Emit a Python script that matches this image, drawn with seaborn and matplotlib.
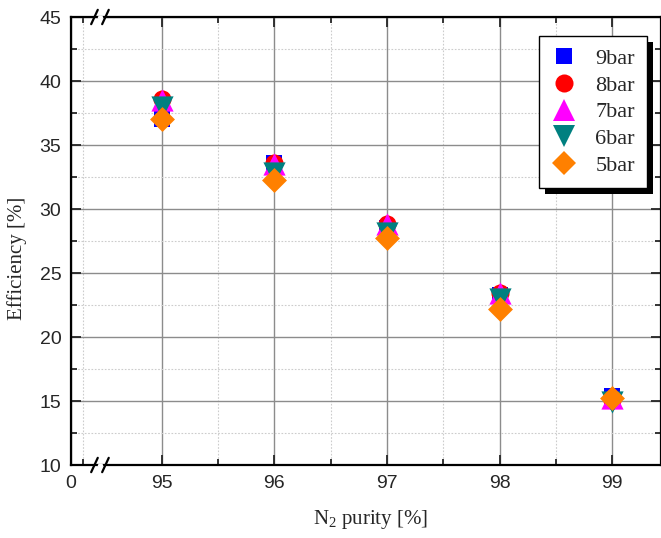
import matplotlib
matplotlib.use("Agg")
import matplotlib.pyplot as plt
import seaborn as sns
import pandas as pd
from matplotlib.patches import Rectangle
from matplotlib.lines import Line2D

# data
purity = [95, 96, 97, 98, 99]
eff_9bar = [37.0, 33.6, 28.5, 23.3, 15.4]
eff_8bar = [38.6, 33.6, 28.8, 23.4, 15.1]
eff_7bar = [38.5, 33.5, 28.8, 23.4, 15.2]
eff_6bar = [38.0, 32.8, 28.1, 23.0, 14.9]
eff_5bar = [37.0, 32.3, 27.7, 22.2, 15.2]
series_names = ["9bar", "8bar", "7bar", "6bar", "5bar"]

sns.set_style("ticks")
plt.rcParams['font.family'] = ['Liberation Sans', 'DejaVu Sans']
plt.rcParams['mathtext.default'] = 'regular'

df = pd.DataFrame({
    "purity": purity * 5,
    "eff": eff_9bar + eff_8bar + eff_7bar + eff_6bar + eff_5bar,
    "series": [s for s in series_names for _ in purity],
})

colors = {"9bar": "#0000ff", "8bar": "#ff0000", "7bar": "#ff00ff",
          "6bar": "#008080", "5bar": "#ff8000"}
markers = {"9bar": "s", "8bar": "o", "7bar": "^", "6bar": "v", "5bar": "D"}
msize = {"9bar": 11.5, "8bar": 13, "7bar": 16, "6bar": 16, "5bar": 12.7}

fig = plt.figure(figsize=(6.61, 5.38), dpi=100)
ax = fig.add_axes([71 / 661, 1 - 465 / 538, 1 - 71 / 661 - 0.5 / 661, (465 - 17) / 538])

# x axis is broken: "0" sits just left of 95
x_zero = 95 - 91 / 112.7
x_right = 99.43

for name in series_names:
    sub = df[df["series"] == name]
    sns.scatterplot(data=sub, x="purity", y="eff", ax=ax, color=colors[name],
                    marker=markers[name], s=msize[name] ** 2, linewidth=0,
                    zorder=3, legend=False)

ax.set_xlim(x_zero, x_right)
ax.set_ylim(10, 45)
ax.set_xticks([x_zero] + purity)
ax.set_xticklabels(["0"] + [str(p) for p in purity])
ax.set_xticks([x_zero + 12 / 112.7, 95.5, 96.5, 97.5, 98.5], minor=True)
ax.set_yticks([10, 15, 20, 25, 30, 35, 40, 45])
ax.set_yticks([12.5, 17.5, 22.5, 27.5, 32.5, 37.5, 42.5], minor=True)

ax.grid(which="major", color="#8c8c8c", linewidth=1.0, linestyle="-")
ax.grid(which="minor", color="#cccccc", linewidth=0.8, linestyle=(0, (1.5, 1.5)))
ax.set_axisbelow(True)

for sp in ax.spines.values():
    sp.set_linewidth(1.6)
    sp.set_color("black")
ax.tick_params(which="both", direction="in", top=True, right=True,
               labelsize=14, width=1.3, pad=7)
ax.tick_params(which="major", length=7)
ax.tick_params(which="minor", length=4)

ax.set_xlabel("N$_2$ purity [%]", family="Liberation Serif", fontsize=15)
ax.set_ylabel("Efficiency [%]", family="Liberation Serif", fontsize=15)
ax.xaxis.set_label_coords((371 - 71) / 589.5, -(508 - 465) / 448)
ax.yaxis.set_label_coords(-(71 - 27) / 589.5, (465 - 258) / 448)

# break marks on bottom and top spines
trans = ax.get_xaxis_transform()
xb = x_zero + 29 / 112.7
dx = 3.3 / 112.7
gap = 5.5 / 112.7
for yb in (0, 1):
    ax.plot([xb - gap / 2 + dx * 0.4, xb + gap / 2 - dx * 0.4], [yb, yb], color="white",
            lw=2.5, transform=trans, clip_on=False, zorder=5)
    for c in (xb - gap, xb + gap):
        ax.plot([c - dx, c + dx], [yb - 0.016, yb + 0.016], color="black", lw=1.6,
                transform=trans, clip_on=False, zorder=6)

handles = [Line2D([], [], linestyle="none", marker=markers[n], color=colors[n],
                  markersize=msize[n], markeredgewidth=0) for n in series_names]
leg = ax.legend(handles, series_names, loc="upper right",
                bbox_to_anchor=((647 - 71) / 589.5, 1 - (36 - 17) / 448),
                borderaxespad=0,
                prop={"family": "Liberation Serif", "size": 16},
                frameon=True, fancybox=False, edgecolor="black", framealpha=1,
                labelspacing=0.28, handletextpad=0.8, borderpad=0.55,
                handlelength=1.2)
leg.get_frame().set_linewidth(1.0)
leg.set_zorder(10)

fig.canvas.draw()
bb = leg.get_window_extent().transformed(ax.transAxes.inverted())
sx = 6 / ax.bbox.width
sy = 6 / ax.bbox.height
shadow = Rectangle((bb.x0 + sx, bb.y0 - sy), bb.width, bb.height, transform=ax.transAxes,
                   facecolor="black", edgecolor="none", zorder=9.5, clip_on=False)
ax.add_patch(shadow)

fig.savefig("out.png", dpi=100)
